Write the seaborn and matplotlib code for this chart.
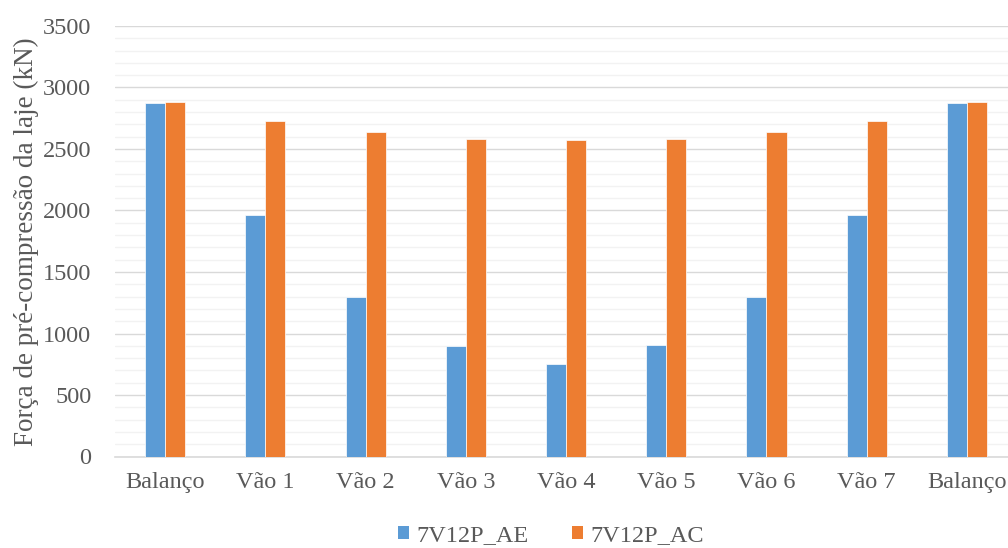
import matplotlib
matplotlib.use("Agg")
import matplotlib.pyplot as plt
from matplotlib.patches import Patch
from matplotlib.ticker import MultipleLocator
import seaborn as sns
import pandas as pd

categories = ["Balanço", "Vão 1", "Vão 2", "Vão 3", "Vão 4", "Vão 5", "Vão 6", "Vão 7", "Balanço"]
series_names = ["7V12P_AE", "7V12P_AC"]
ae_values = [2870, 1960, 1300, 900, 750, 910, 1300, 1960, 2870]
ac_values = [2880, 2725, 2640, 2585, 2570, 2585, 2640, 2725, 2880]
colors = ["#5B9BD5", "#ED7D31"]

rows = []
for i, (a, c) in enumerate(zip(ae_values, ac_values)):
    rows.append({"pos": i, "serie": series_names[0], "valor": a})
    rows.append({"pos": i, "serie": series_names[1], "valor": c})
df = pd.DataFrame(rows)

sns.set_theme(style="white")
plt.rcParams["font.family"] = ["Liberation Serif", "DejaVu Serif"]

fig = plt.figure(figsize=(10.08, 5.48), dpi=100)
ax = fig.add_axes([115 / 1008, 91.5 / 548, (1008 - 115) / 1008, (456.5 - 26) / 548])

sns.barplot(data=df, x="pos", y="valor", hue="serie", order=list(range(len(categories))),
            hue_order=series_names, palette=colors, width=0.4, dodge=True,
            errorbar=None, ax=ax, legend=False, edgecolor="white", linewidth=0.5,
            saturation=1, zorder=3)

ax.set_ylim(0, 3500)
ax.set_xlim(-0.5, 8.41)
ax.yaxis.set_major_locator(MultipleLocator(500))
ax.yaxis.set_minor_locator(MultipleLocator(100))
ax.grid(axis="y", which="major", color="#D9D9D9", linewidth=1.0, zorder=0)
ax.grid(axis="y", which="minor", color="#F2F2F2", linewidth=1.0, zorder=0)
ax.set_axisbelow(True)

for s in ["top", "right", "left"]:
    ax.spines[s].set_visible(False)
ax.spines["bottom"].set_color("#D9D9D9")
ax.spines["bottom"].set_linewidth(1.2)

ax.set_xticks(range(len(categories)))
ax.set_xticklabels(categories)
ax.tick_params(axis="both", which="both", length=0, labelsize=17.5, labelcolor="#595959")
ax.tick_params(axis="y", pad=17)
ax.tick_params(axis="x", pad=11)
ax.set_xlabel("")
ax.set_ylabel("Força de pré-compressão da laje (kN)", fontsize=19.5, color="#595959", labelpad=3)

handles = [Patch(facecolor=c, edgecolor="none") for c in colors]
fig.legend(handles, series_names, loc="center", bbox_to_anchor=(551 / 1008, 1 - 536 / 548),
           ncol=2, frameon=False, fontsize=17.5, labelcolor="#595959",
           handlelength=0.45, handleheight=0.45, handletextpad=0.3, columnspacing=1.8)

fig.savefig("out.png", dpi=100)
